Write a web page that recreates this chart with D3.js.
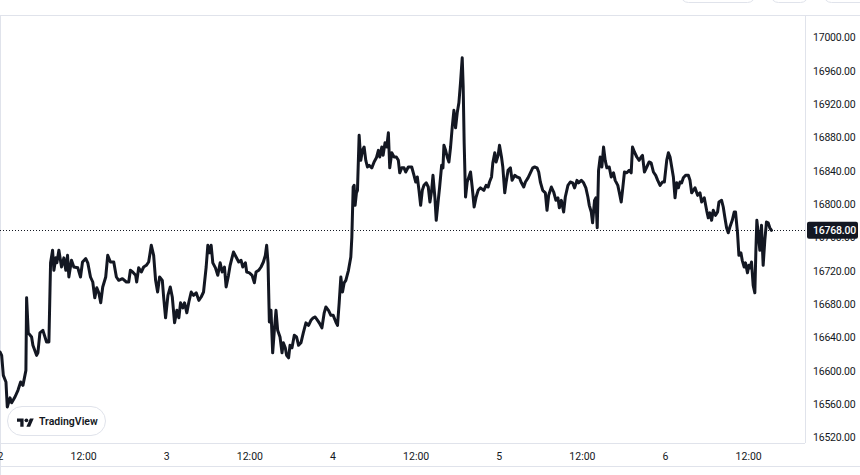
<!DOCTYPE html>
<html>
<head>
<meta charset="utf-8">
<script src="https://cdn.jsdelivr.net/npm/d3@7/dist/d3.min.js"></script>
<style>
  html, body { margin: 0; padding: 0; background: #ffffff; }
  svg { display: block; }
  text { font-family: Roboto, "Liberation Sans", sans-serif; }
</style>
</head>
<body>
<svg id="chart" width="860" height="475"></svg>
<script>
// ---- Data (hours since 2 Dec 00:00, BTC price) ----
const hours = [
0,0.24,0.48,0.86,1.05,1.44,1.68,2.16,2.59,2.98,3.31,3.74,3.84,4.08,4.56,4.75,5.28,5.47,5.76,6.19,6.72,7.06,7.30,7.59,7.78,8.06,8.21,8.50,8.88,9.22,9.50,9.75,9.94,10.32,10.66,11.23,11.62,11.91,12.38,12.67,13.06,13.39,13.68,13.97,14.26,14.54,14.83,15.26,15.55,15.94,16.42,16.80,17.14,17.67,18.24,18.58,18.82,19.15,19.58,19.73,20.02,20.40,20.74,21.12,21.46,21.84,22.18,22.46,22.75,23.04,23.43,
23.62,23.90,24.24,24.58,24.87,25.20,25.53,25.82,26.06,26.40,26.64,26.97,27.26,27.60,27.94,28.32,28.70,29.04,29.38,29.76,30.00,30.24,30.48,30.72,31.10,31.44,31.78,32.07,32.40,32.64,32.98,33.22,33.70,34.08,34.46,34.80,35.04,35.42,35.61,36.00,36.39,36.72,36.96,37.34,37.68,38.02,38.30,38.49,38.69,38.88,39.12,39.36,39.60,39.84,40.08,40.42,40.71,40.90,41.18,41.37,41.66,41.86,42.15,42.48,42.81,43.10,43.44,43.78,44.16,44.54,44.88,45.22,45.50,45.84,
46.08,46.47,46.80,47.04,47.42,47.76,48.10,48.48,48.72,48.96,49.20,49.44,49.68,49.92,50.30,50.64,50.79,50.98,51.12,51.26,51.45,51.60,51.84,52.08,52.32,52.56,52.80,53.04,53.28,53.67,54.00,54.33,54.62,54.82,55.11,55.30,55.58,55.83,56.06,56.26,56.55,56.88,57.21,57.50,57.70,57.99,58.32,58.56,58.94,59.43,59.76,60.00,60.24,60.48,60.72,60.96,61.20,61.53,61.82,62.06,62.31,62.50,62.78,62.97,63.26,63.46,63.75,63.94,64.08,64.32,64.56,64.80,65.04,65.28,65.52,65.76,66.00,66.24,66.48,66.72,66.86,67.00,67.20,67.44,67.68,67.92,68.16,68.44,68.73,69.02,
69.36,69.84,70.17,70.46,70.66,70.95,71.14,71.42,71.61,71.90,72.10,72.39,72.58,72.86,73.05,73.34,73.68,73.92,74.30,74.64,74.98,75.27,75.60,75.84,76.22,76.56,76.90,77.18,77.52,77.76,78.00,78.34,78.72,78.96,79.20,79.59,79.92,80.25,80.54,80.74,81.03,81.36,81.60,81.98,82.32,82.66,82.94,83.28,83.52,83.91,84.24,84.57,84.86,85.06,85.35,85.54,85.82,86.01,86.21,86.40,86.64,86.88,87.12,87.36,87.60,87.94,88.23,88.56,88.80,89.18,89.38,89.67,89.86,90.14,90.48,90.82,91.11,91.30,91.58,91.92,92.26,92.55,
92.74,93.02,93.36,93.70,93.99,94.32,94.65,94.94,95.28,95.62,95.90,96.24,96.48,96.72,96.96,97.20,97.44,97.68,97.92,98.16,98.40,98.64,98.97,99.36,99.60,99.84,100.08,100.32,100.70,101.04,101.28,101.66,102.00,102.24,102.48,102.72,102.96,103.29,103.58,103.78,104.16,104.40,104.64,104.88,105.12,105.36,105.70,105.98,106.17,106.46,106.66,106.95,107.14,107.42,107.61,107.90,108.10,108.29,108.48,108.72,108.96,109.11,109.25,109.44,109.68,109.92,110.16,110.40,110.64,110.88,111.12,111.36
];
const prices = [
16622,16618,16594,16586,16556,16567,16561,16568,16576,16586,16582,16600,16687,16645,16640,16630,16618,16621,16645,16648,16634,16634,16729,16744,16720,16735,16729,16744,16724,16735,16720,16738,16712,16732,16724,16723,16712,16730,16734,16729,16712,16706,16687,16699,16693,16681,16700,16712,16738,16730,16730,16712,16708,16710,16706,16706,16720,16718,16714,16706,16723,16718,16724,16726,16730,16750,16738,16708,16694,16712,16708,
16688,16663,16690,16700,16688,16657,16672,16663,16681,16675,16681,16669,16682,16694,16690,16693,16684,16688,16694,16724,16750,16741,16750,16729,16723,16714,16729,16718,16724,16700,16714,16726,16742,16736,16730,16732,16724,16729,16718,16717,16714,16705,16718,16720,16724,16730,16738,16750,16729,16658,16672,16621,16648,16672,16648,16640,16621,16633,16627,16618,16615,16630,16627,16642,16640,16630,16633,16645,16657,16654,16660,16663,16664,16660,
16657,16651,16669,16676,16672,16666,16666,16658,16654,16681,16712,16694,16705,16708,16720,16736,16760,16820,16822,16798,16813,16816,16882,16852,16864,16868,16852,16844,16846,16843,16850,16855,16864,16856,16868,16858,16873,16868,16885,16843,16861,16856,16856,16852,16837,16843,16843,16838,16844,16844,16834,16826,16832,16816,16798,16816,16822,16825,16820,16802,16816,16834,16807,16780,16804,16820,16846,16843,16870,16864,16856,16850,16868,16892,16912,16891,16909,16921,16946,16975,16940,16873,16808,16826,16832,16838,16820,16796,16808,16816,
16819,16816,16822,16820,16826,16832,16849,16861,16850,16858,16870,16856,16844,16813,16825,16840,16843,16828,16834,16832,16831,16825,16820,16826,16831,16837,16843,16844,16843,16838,16826,16816,16813,16792,16810,16820,16814,16804,16807,16795,16804,16790,16808,16822,16826,16825,16819,16828,16825,16828,16825,16819,16808,16798,16790,16777,16804,16807,16771,16840,16856,16844,16868,16852,16843,16844,16832,16837,16828,16822,16814,16802,16816,16838,16837,16840,16837,16868,16862,16856,16852,16856,
16858,16838,16844,16850,16849,16838,16834,16828,16822,16826,16826,16852,16861,16856,16844,16832,16807,16825,16819,16826,16825,16831,16834,16834,16828,16813,16816,16819,16810,16813,16802,16807,16792,16783,16789,16780,16792,16786,16790,16802,16804,16796,16783,16771,16765,16772,16780,16790,16790,16765,16738,16741,16732,16724,16729,16717,16726,16723,16730,16702,16693,16744,16780,16765,16744,16774,16726,16756,16778,16777,16771,16768
];
const lastPrice = 16768;
const yTicks = [16520,16560,16600,16640,16680,16720,16760,16800,16840,16880,16920,16960,17000];
const xTickHours = [0,12,24,36,48,60,72,84,96,108];
const xTickLabels = ["2","12:00","3","12:00","4","12:00","5","12:00","6","12:00"];

// ---- Layout ----
const W = 860, H = 475;
const plotL = 0, plotR = 805, plotT = 15, plotB = 443;
const svg = d3.select("#chart");

const x = d3.scaleLinear().domain([0, 116.2]).range([plotL, plotR]);
const y = d3.scaleLinear().domain([16512.8, 17026.4]).range([plotB, plotT]);

// top-right toolbar button remnants
[[680, 755], [770, 808], [823, 880]].forEach(([a, b]) => {
  svg.append("rect").attr("x", a + 0.5).attr("y", -20).attr("width", b - a).attr("height", 22.5)
    .attr("rx", 8).attr("fill", "#fff").attr("stroke", "#e0e3eb").attr("stroke-width", 1);
});

// borders
const border = "#e0e3eb";
svg.append("line").attr("x1", 0).attr("x2", W).attr("y1", plotT + 0.5).attr("y2", plotT + 0.5).attr("stroke", border);
svg.append("line").attr("x1", plotR + 0.5).attr("x2", plotR + 0.5).attr("y1", plotT).attr("y2", plotB).attr("stroke", border);
svg.append("line").attr("x1", 0).attr("x2", plotR).attr("y1", plotB + 0.5).attr("y2", plotB + 0.5).attr("stroke", border);
svg.append("line").attr("x1", 0).attr("x2", W).attr("y1", 466.5).attr("y2", 466.5).attr("stroke", border);
svg.append("line").attr("x1", 0.5).attr("x2", 0.5).attr("y1", plotT).attr("y2", H).attr("stroke", border);

// clip
svg.append("clipPath").attr("id", "plotclip").append("rect")
  .attr("x", plotL).attr("y", plotT + 1).attr("width", plotR - plotL).attr("height", plotB - plotT - 1);

// y axis
const yAxis = d3.axisRight(y).tickValues(yTicks).tickSize(0).tickPadding(0).tickFormat(d3.format(".2f"));
const gy = svg.append("g").attr("transform", `translate(${plotR + 8},0)`).call(yAxis);
gy.select(".domain").remove();
gy.selectAll("text").attr("font-size", "10.5px").attr("fill", "#131722").attr("dy", "0.35em")
  .attr("letter-spacing", "-0.2px").attr("font-family", "Roboto, sans-serif");

// x axis
const xAxis = d3.axisBottom(x).tickValues(xTickHours).tickSize(0).tickPadding(0)
  .tickFormat((d, i) => xTickLabels[i]);
const gx = svg.append("g").attr("transform", `translate(0,${plotB})`).call(xAxis);
gx.select(".domain").remove();
gx.selectAll("text").attr("font-size", "10.5px").attr("fill", "#131722").attr("y", 17).attr("dy", 0)
  .attr("font-family", "Roboto, sans-serif");

// dotted last price line
svg.append("line").attr("x1", 0).attr("x2", plotR).attr("y1", Math.round(y(lastPrice)) + 0.5).attr("y2", Math.round(y(lastPrice)) + 0.5)
  .attr("stroke", "#131722").attr("stroke-width", 1).attr("stroke-dasharray", "1,2");

// price line
const data = hours.map((h, i) => [h, prices[i]]);
svg.append("path").datum(data).attr("clip-path", "url(#plotclip)")
  .attr("fill", "none").attr("stroke", "#131722").attr("stroke-width", 3)
  .attr("stroke-linejoin", "round").attr("stroke-linecap", "round")
  .attr("d", d3.line().x(d => x(d[0])).y(d => y(d[1])));

// last price label
const ly = y(lastPrice);
svg.append("rect").attr("x", plotR + 2).attr("y", ly - 8.5).attr("width", 51).attr("height", 17)
  .attr("rx", 2).attr("fill", "#131722");
svg.append("text").attr("x", plotR + 8).attr("y", ly).attr("dy", "0.35em")
  .attr("font-size", "10.5px").attr("letter-spacing", "-0.2px").attr("font-weight", 500).attr("fill", "#ffffff")
  .text(d3.format(".2f")(lastPrice));

// TradingView watermark pill
const wm = svg.append("g");
wm.append("rect").attr("x", 7.5).attr("y", 406.5).attr("width", 98).attr("height", 29).attr("rx", 14.5)
  .attr("fill", "#ffffff").attr("stroke", "#e0e3eb");
const logo = wm.append("g").attr("transform", "translate(17,416.5) scale(0.47)").attr("fill", "#131722");
logo.append("path").attr("d", "M14 22H7V11H0V4h14v18z");
logo.append("circle").attr("cx", 20).attr("cy", 8).attr("r", 4);
logo.append("path").attr("d", "M28 22h-8l7.5-18h8L28 22z");
wm.append("text").attr("x", 39).attr("y", 421.5).attr("dy", "0.35em")
  .attr("font-size", "10.5px").attr("font-weight", 600).attr("fill", "#131722").text("TradingView");
</script>
</body>
</html>
